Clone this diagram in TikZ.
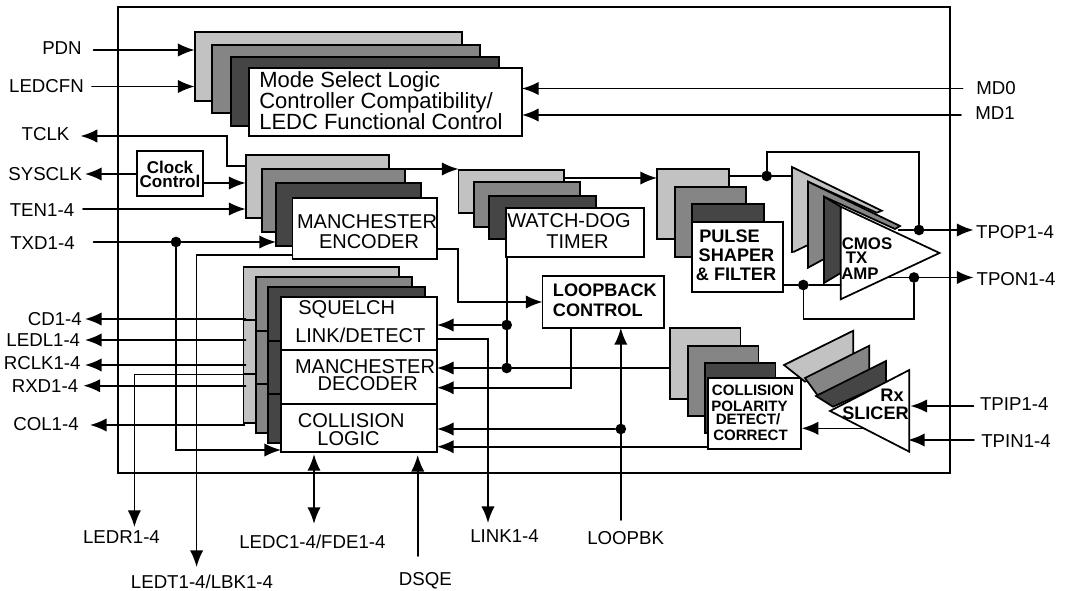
\documentclass[tikz,border=0pt]{standalone}
\usepackage{fontspec}
\setmainfont{Liberation Sans}
\usetikzlibrary{arrows.meta,calc}
\definecolor{lite}{gray}{0.76}
\definecolor{midg}{gray}{0.52}
\definecolor{darkg}{gray}{0.27}
\tikzset{
  wire/.style={line width=1.2pt,line cap=round,line join=miter},
  frm/.style={line width=1.35pt},
  boxn/.style={draw=black,line width=1.45pt,inner sep=0pt,outer sep=0pt,anchor=north west},
  tri/.style={draw=black,line width=1.3pt,line join=miter},
  tip/.style={-{Latex[length=12.5pt,width=10pt]}},
  tipb/.style={{Latex[length=12.5pt,width=10pt]}-{Latex[length=12.5pt,width=10pt]}},
  dotn/.style={circle,fill=black,inner sep=0pt,minimum size=8pt},
  lab/.style={inner sep=0pt,font=\fontsize{14}{14}\selectfont},
  big/.style={inner sep=0pt,font=\fontsize{16.5}{16.5}\selectfont,anchor=base west},
  txm/.style={inner sep=0pt,font=\fontsize{15}{15}\selectfont},
  bld/.style={inner sep=0pt,font=\fontsize{13.6}{13.6}\selectfont\bfseries},
  bls/.style={inner sep=0pt,font=\fontsize{11.3}{11.3}\selectfont\bfseries},
  blc/.style={inner sep=0pt,font=\fontsize{12.6}{12.6}\selectfont\bfseries},
}
\newcommand\boxat[6]{%
  \pgfmathsetmacro\bxw{(#4-#2)*0.75}\pgfmathsetmacro\bxh{(#5-#3)*0.75}%
  \node[boxn,fill=#6,minimum width=\bxw pt,minimum height=\bxh pt] (#1) at (#2,#3) {};}
\begin{document}
\begin{tikzpicture}[x=0.75pt,y=-0.75pt]
\useasboundingbox (0,0) rectangle (1066,591);
% outer frame
\node[boxn,draw=black,line width=1.35pt,minimum width=624pt,minimum height=349.5pt] (chip) at (117.7,7) {};
% mode select
\boxat{ma}{194.6}{32}{461.6}{101}{lite}
\boxat{mb}{212}{45}{480}{113}{midg}
\boxat{mc}{230.6}{57}{499}{126}{darkg}
\boxat{md}{249}{68}{522}{136}{white}
\node[big] (mt1) at (259,88) {Mode Select Logic};
\node[big] (mt2) at (259,109) {Controller Compatibility/};
\node[big] (mt3) at (259,130) {LEDC Functional Control};
% clock control
\boxat{clk}{137.4}{151}{203}{196}{white}
\node[bls,font=\fontsize{12.8}{12.8}\selectfont\bfseries] (clk1) at (170,167) {Clock};
\node[bls,font=\fontsize{12.8}{12.8}\selectfont\bfseries] (clk2) at (170,181) {Control};
% encoder
\boxat{ea}{245.6}{155}{389}{218}{lite}
\boxat{eb}{261.6}{169}{404.8}{232}{midg}
\boxat{ec}{276}{183}{421}{246}{darkg}
\boxat{ed}{292.5}{198}{437}{259}{white}
\node[txm] (et1) at (367,222) {MANCHESTER};
\node[txm] (et2) at (369,242) {ENCODER};
% watchdog
\boxat{wa}{458.5}{170}{564}{213}{lite}
\boxat{wb}{473.8}{182}{580}{227}{midg}
\boxat{wc}{489}{196}{596}{239}{darkg}
\boxat{wd}{506}{208}{644}{257}{white}
\node[txm] (wt1) at (569,221) {WATCH-DOG};
\node[txm] (wt2) at (577.5,242) {TIMER};
% pulse shaper
\boxat{pa}{657}{169}{728.6}{239}{lite}
\boxat{pb}{675}{187}{745.6}{257}{midg}
\boxat{pc}{692}{204}{764}{280}{darkg}
\boxat{pd}{692}{222}{783}{292}{white}
\node[bld] (pt1) at (729.5,236) {PULSE};
\node[bld] (pt2) at (736.5,255) {SHAPER};
\node[bld] (pt3) at (736,274) {\& FILTER};
% loopback
\boxat{lb}{542.5}{275.7}{663.6}{328}{white}
\node[bld,anchor=west] (lt1) at (552.7,290.7) {LOOPBACK};
\node[bld,anchor=west] (lt2) at (552.7,310.7) {CONTROL};
% squelch stack
\boxat{sa}{243.5}{267}{399}{423}{lite}
\boxat{sb}{255.8}{277}{412}{433}{midg}
\boxat{sc}{267.7}{287}{425}{443}{darkg}
\boxat{sd}{281}{296.7}{437}{350}{white}
\boxat{se}{281}{350}{437}{404}{white}
\boxat{sf}{281}{404}{437}{452}{white}
\node[txm] (st1) at (346.7,309) {SQUELCH};
\node[txm] (st2) at (360.3,335) {LINK/DETECT};
\node[txm] (st3) at (365,366.7) {MANCHESTER};
\node[txm] (st4) at (367.7,384) {DECODER};
\node[txm] (st5) at (351.3,421) {COLLISION};
\node[txm] (st6) at (348.5,439) {LOGIC};
% collision polarity stack
\boxat{ca}{670}{328.3}{740.5}{399}{lite}
\boxat{cb}{687.8}{345.7}{758.5}{415.7}{midg}
\boxat{cc}{704.8}{363}{775.5}{433}{darkg}
\boxat{cd}{708}{378}{801}{449}{white}
\node[bls] (ct1) at (753,390) {COLLISION};
\node[bls] (ct2) at (749.5,406) {POLARITY};
\node[bls] (ct3) at (748,419) {DETECT/};
\node[bls] (ct4) at (750.5,435) {CORRECT};
% TX amp stack
\draw[tri,fill=lite] (792,167)--(881.7,210.7)--(876.7,212.7)--(808,181.7)--(808,245)--(794,251.7)--(792,252)--cycle;
\draw[tri,fill=midg] (808,181.7)--(900,226)--(895,229)--(824,196.7)--(824,259)--(808,267.7)--cycle;
\draw[tri,fill=darkg] (824,196.7)--(840.7,206.7)--(840.7,273)--(824,283)--cycle;
\draw[tri,fill=white] (840.7,206.7)--(939.5,253)--(840.7,299.3)--cycle;
\node[blc] (at1) at (867,244) {CMOS};
\node[blc] (at2) at (856.5,257.7) {TX};
\node[blc] (at3) at (860,274) {AMP};
% RX slicer stack
\draw[tri,fill=lite] (784,365)--(853.3,330.7)--(853.3,360)--(805,381.7)--cycle;
\draw[tri,fill=midg] (805,378)--(869.3,345.7)--(869.3,376.7)--(817.3,395)--cycle;
\draw[tri,fill=darkg] (816,396)--(886,361)--(886,383)--(833,406.7)--cycle;
\draw[tri,fill=white] (830,411)--(909.3,370)--(909.3,451.7)--cycle;
\node[bld] (rt1) at (892,395) {Rx};
\node[bld] (rt2) at (875.5,413) {SLICER};
% left labels
\node[lab] (pdn) at (62,48) {PDN};
\node[lab] (ledcfn) at (46.5,86) {LEDCFN};
\node[lab] (tclk) at (45.5,134) {TCLK};
\node[lab] (sysclk) at (45.2,174) {SYSCLK};
\node[lab] (ten) at (42,210) {TEN1-4};
\node[lab] (txd) at (42.5,243) {TXD1-4};
\node[lab] (cdl) at (54.8,319) {CD1-4};
\node[lab] (ledl) at (43.3,340) {LEDL1-4};
\node[lab] (rclk) at (42.2,363.5) {RCLK1-4};
\node[lab] (rxd) at (45,385.7) {RXD1-4};
\node[lab] (col) at (46,424) {COL1-4};
% bottom labels
\node[lab] (ledr) at (121.5,537) {LEDR1-4};
\node[lab] (ledc) at (312.4,541.7) {LEDC1-4/FDE1-4};
\node[lab] (ledt) at (202,582) {LEDT1-4/LBK1-4};
\node[lab] (dsqe) at (425.3,581) {DSQE};
\node[lab] (link) at (504.5,535.7) {LINK1-4};
\node[lab] (lpbk) at (625.7,538) {LOOPBK};
% right labels
\node[lab] (md0) at (996,88) {MD0};
\node[lab] (md1) at (995,112.7) {MD1};
\node[lab] (tpop) at (1015,231.7) {TPOP1-4};
\node[lab] (tpon) at (1016,279) {TPON1-4};
\node[lab] (tpip) at (1014.3,404) {TPIP1-4};
\node[lab] (tpin) at (1016,441) {TPIN1-4};
% free ends and corners
\coordinate (pdnS) at (93.5,50);
\coordinate (cfnS) at (92,86.5);
\coordinate (md0S) at (962.6,88.5);
\coordinate (md1S) at (961,115);
\coordinate (tclkE) at (80.6,136);
\coordinate (tclkC) at (227,166);
\coordinate (tenS) at (83,209);
\coordinate (txdS) at (93.5,242);
\coordinate (sysE) at (85,174);
\coordinate (clkO) at (203,183);
% junctions
\node[dotn] (jtxd) at (176,242) {};
\node[dotn] (jtop) at (766.7,176) {};
\node[dotn] (jpop) at (919,230) {};
\node[dotn] (jpon) at (914,277.5) {};
\node[dotn] (jinp) at (803.3,285) {};
\node[dotn] (jwd1) at (506.7,325) {};
\node[dotn] (jwd2) at (506.7,368) {};
\node[dotn] (jlbk) at (620.8,429) {};
% inputs to mode select
\draw[wire,tip] (pdnS) -- (ma.west |- pdnS);
\draw[wire,tip] (cfnS) -- (ma.west |- cfnS);
\draw[wire,tip] (md0S) -- (md.east |- md0S);
\draw[wire,tip] (md1S) -- (md.east |- md1S);
% clock and encoder inputs
\draw[wire,tip] (ea.west |- tclkC) -- (tclkC) -- (tclkC |- tclkE) -- (tclkE);
\draw[wire,tip] (clk.west |- sysE) -- (sysE);
\draw[wire,tip] (clkO) -- (ea.west |- clkO);
\draw[wire,tip] (tenS) -- (ea.west |- tenS);
\draw[wire,tip] (txdS) -- (jtxd) -- (ec.west |- jtxd);
\coordinate (txdD) at (176,450);
\draw[wire,tip] (jtxd) -- (txdD) -- (sf.west |- txdD);
% encoder to watchdog, watchdog to shaper
\coordinate (e2w) at (404.8,169);
\draw[wire,tip] (e2w) -- (wa.west |- e2w);
\coordinate (w2p) at (564,178);
\draw[wire,tip] (w2p) -- (pa.west |- w2p);
% encoder outputs
\coordinate (ledtA) at (292.5,255);
\coordinate (ledtB) at (196.6,255);
\coordinate (ledtE) at (196.6,567);
\draw[wire,tip] (ledtA) -- (ledtB) -- (ledtE);
\coordinate (eoA) at (437,249);
\coordinate (eoB) at (458,249);
\coordinate (eoC) at (458,302);
\draw[wire,tip] (eoA) -- (eoB) -- (eoC) -- (lb.west |- eoC);
% watchdog bus
\draw[wire] (wd.south -| jwd1) -- (jwd2);
\draw[wire,tip] (jwd1) -- (sd.east |- jwd1);
\draw[wire,tip] (jwd2) -- (se.east |- jwd2);
\draw[wire] (jwd2) -- (ca.west |- jwd2);
% loopback output
\coordinate (lbA) at (571,328);
\coordinate (lbB) at (571,387.7);
\draw[wire,tip] (lbA) -- (lbB) -- (se.east |- lbB);
% loopbk input
\coordinate (lbkS) at (620.8,520);
\draw[wire,tip] (lbkS) -- (lb.south -| lbkS) ;
\draw[wire,tip] (jlbk) -- (sf.east |- jlbk);
\coordinate (corrO) at (708,446.7);
\draw[wire,tip] (corrO) -- (sf.east |- corrO);
% squelch left outputs
\coordinate (cdS) at (245.6,319);
\coordinate (cdE) at (85,319);
\draw[wire,tip] (cdS) -- (cdE);
\coordinate (ldS) at (245.6,340);
\coordinate (ldE) at (85,340);
\draw[wire,tip] (ldS) -- (ldE);
\coordinate (rcS) at (245.6,365);
\coordinate (rcE) at (85,365);
\draw[wire,tip] (rcS) -- (rcE);
\coordinate (rxS) at (245.6,385.7);
\coordinate (rxE) at (83.5,385.7);
\draw[wire,tip] (rxS) -- (rxE);
\coordinate (colC) at (244,425);
\coordinate (colE) at (90,425);
\draw[wire,tip] (sa.south -| colC) -- (colC) -- (colE);
\coordinate (lrS) at (245.6,374.5);
\coordinate (lrC) at (134.4,374.5);
\coordinate (lrE) at (134.4,527);
\draw[wire,tip] (lrS) -- (lrC) -- (lrE);
% internal ticks of squelch stack
\draw[wire] (sa.west |- 0,320) -- (sb.west |- 0,320);
\draw[wire] (sa.west |- 0,374) -- (sb.west |- 0,374);
\draw[wire] (sb.west |- 0,331) -- (sc.west |- 0,331);
\draw[wire] (sb.west |- 0,384) -- (sc.west |- 0,384);
\draw[wire] (sc.west |- 0,340.7) -- (sd.west |- 0,340.7);
\draw[wire] (sc.west |- 0,394) -- (sd.west |- 0,394);
% link, ledc, dsqe
\coordinate (lnA) at (437,339);
\coordinate (lnB) at (488,339);
\coordinate (lnE) at (488,523);
\draw[wire,tip] (lnA) -- (lnB) -- (lnE);
\coordinate (lcA) at (314,454);
\coordinate (lcB) at (314,524);
\draw[wire,line width=1.7pt,tipb] (lcA) -- (lcB);
\coordinate (dsS) at (417.7,556);
\coordinate (dsE) at (417.7,455);
\draw[wire,tip] (dsS) -- (dsE);
% pulse shaper and amp
\coordinate (ptA) at (728.6,176);
\coordinate (ptB) at (792.5,176);
\draw[wire] (ptA) -- (jtop) -- (ptB);
\coordinate (fbA) at (766.7,152);
\coordinate (fbB) at (919,152);
\draw[wire] (jtop) -- (fbA) -- (fbB) -- (jpop);
\coordinate (popA) at (898.6,230);
\coordinate (popE) at (973.5,230);
\draw[wire,tip] (popA) -- (jpop) -- (popE);
\coordinate (ponA) at (887,277.5);
\coordinate (ponE) at (973.5,277.5);
\draw[wire,tip] (ponA) -- (jpon) -- (ponE);
\coordinate (fcA) at (914,319);
\coordinate (fcB) at (803.3,319);
\draw[wire] (jpon) -- (fcA) -- (fcB) -- (jinp);
\coordinate (inA) at (783,285);
\coordinate (inB) at (840.7,285);
\draw[wire] (inA) -- (jinp) -- (inB);
% slicer
\coordinate (slO) at (865,428.3);
\coordinate (slE) at (801.7,428.3);
\draw[wire,tip] (slO) -- (slE);
\coordinate (tpiS) at (973.5,406);
\coordinate (tpiE) at (910.5,406);
\draw[wire,tip] (tpiS) -- (tpiE);
\coordinate (tpnS) at (974,440);
\coordinate (tpnE) at (908,440);
\draw[wire,tip] (tpnS) -- (tpnE);
\end{tikzpicture}
\end{document}
